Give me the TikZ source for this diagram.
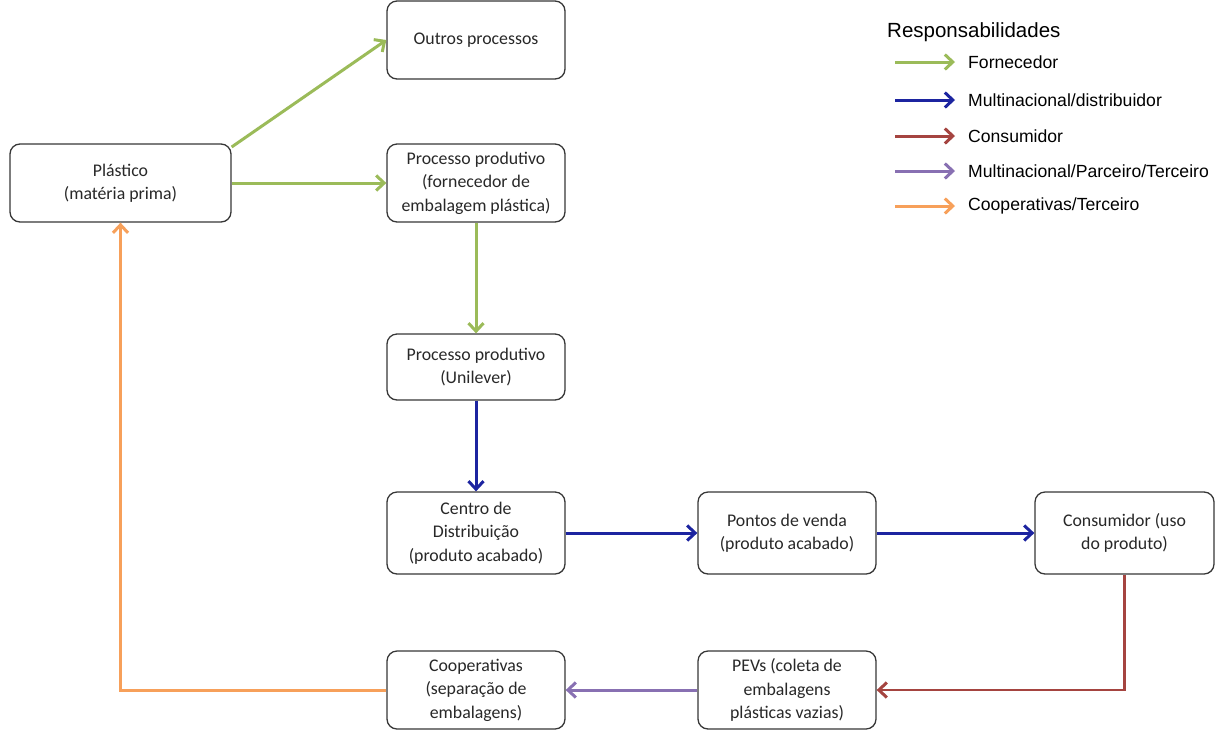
\documentclass[tikz,border=0pt]{standalone}
\usepackage{fontspec}
\setmainfont{Carlito}
\newfontfamily\legendfont{Liberation Sans}
\usetikzlibrary{arrows.meta}
\definecolor{cgreen}{RGB}{155,187,89}
\definecolor{cblue}{RGB}{28,36,160}
\definecolor{cred}{RGB}{165,68,64}
\definecolor{cpurple}{RGB}{136,112,178}
\definecolor{corange}{RGB}{247,160,90}
\definecolor{cborder}{RGB}{55,55,55}
\definecolor{ctext}{RGB}{40,40,40}
\tikzset{
  x=1pt, y=-1pt,
  box/.style={draw=cborder, line width=1.3pt, rounded corners=10pt, fill=white,
    align=center, text=ctext, minimum width=178pt, minimum height=78pt,
    inner sep=2pt, font=\fontsize{17.8}{23.5}\selectfont},
  flow/.style={line width=3pt, -{Straight Barb[length=8pt,width=15pt,line width=3pt]}},
  legtext/.style={anchor=west, text=black, font=\legendfont\fontsize{17.6}{20}\selectfont, inner sep=0pt}
}
\begin{document}
\begin{tikzpicture}
\useasboundingbox (0,0) rectangle (1230,729);

% process boxes
\node[box] (out) at (476,40) {Outros processos};
\node[box, minimum width=221pt] (pla) at (120.5,183) {Plástico\\(matéria prima)};
\node[box] (forn) at (476,183) {Processo produtivo\\(fornecedor de\\embalagem plástica)};
\node[box, minimum height=66pt] (uni) at (476,367) {Processo produtivo\\(Unilever)};
\node[box, minimum height=82pt] (cd) at (476,533) {Centro de\\Distribuição\\(produto acabado)};
\node[box, minimum height=82pt] (pv) at (787,533) {Pontos de venda\\(produto acabado)};
\node[box, minimum width=179pt, minimum height=82pt] (cons) at (1124.5,533) {Consumidor (uso\\do produto)};
\node[box] (coop) at (476,690) {Cooperativas\\(separação de\\embalagens)};
\node[box] (pev) at (787,690) {PEVs (coleta de\\embalagens\\plásticas vazias)};

% flows
\draw[flow, cgreen] ([yshift=36pt]pla.east) -- (out.west);
\draw[flow, cgreen] (pla.east) -- (forn.west);
\draw[flow, cgreen] (forn.south) -- (uni.north);
\draw[flow, cblue] (uni.south) -- (cd.north);
\draw[flow, cblue] (cd.east) -- (pv.west);
\draw[flow, cblue] (pv.east) -- (cons.west);
\draw[flow, cred, line width=2.4pt] (cons.south) |- (pev.east);
\draw[flow, cpurple] (pev.west) -- (coop.east);
\draw[flow, corange] (coop.west) -| (pla.south);

% legend
\node[anchor=west, text=black, font=\legendfont\fontsize{20.5}{24}\selectfont, inner sep=0pt] (ltitle) at (887,32) {Responsabilidades};
\foreach \y/\c/\t/\n in {62/cgreen/Fornecedor/la,
                          100/cblue/Multinacional\slash distribuidor/lb,
                          136/cred/Consumidor/lc,
                          171/cpurple/Multinacional\slash Parceiro\slash Terceiro/ld,
                          206/corange/Cooperativas\slash Terceiro/le}{
  \coordinate (\n s) at (895,\y);
  \coordinate (\n e) at (955,\y);
  \draw[flow, \c] (\n s) -- (\n e);
  \node[legtext] (\n t) at (968,\y) {\t};
}
\end{tikzpicture}
\end{document}
